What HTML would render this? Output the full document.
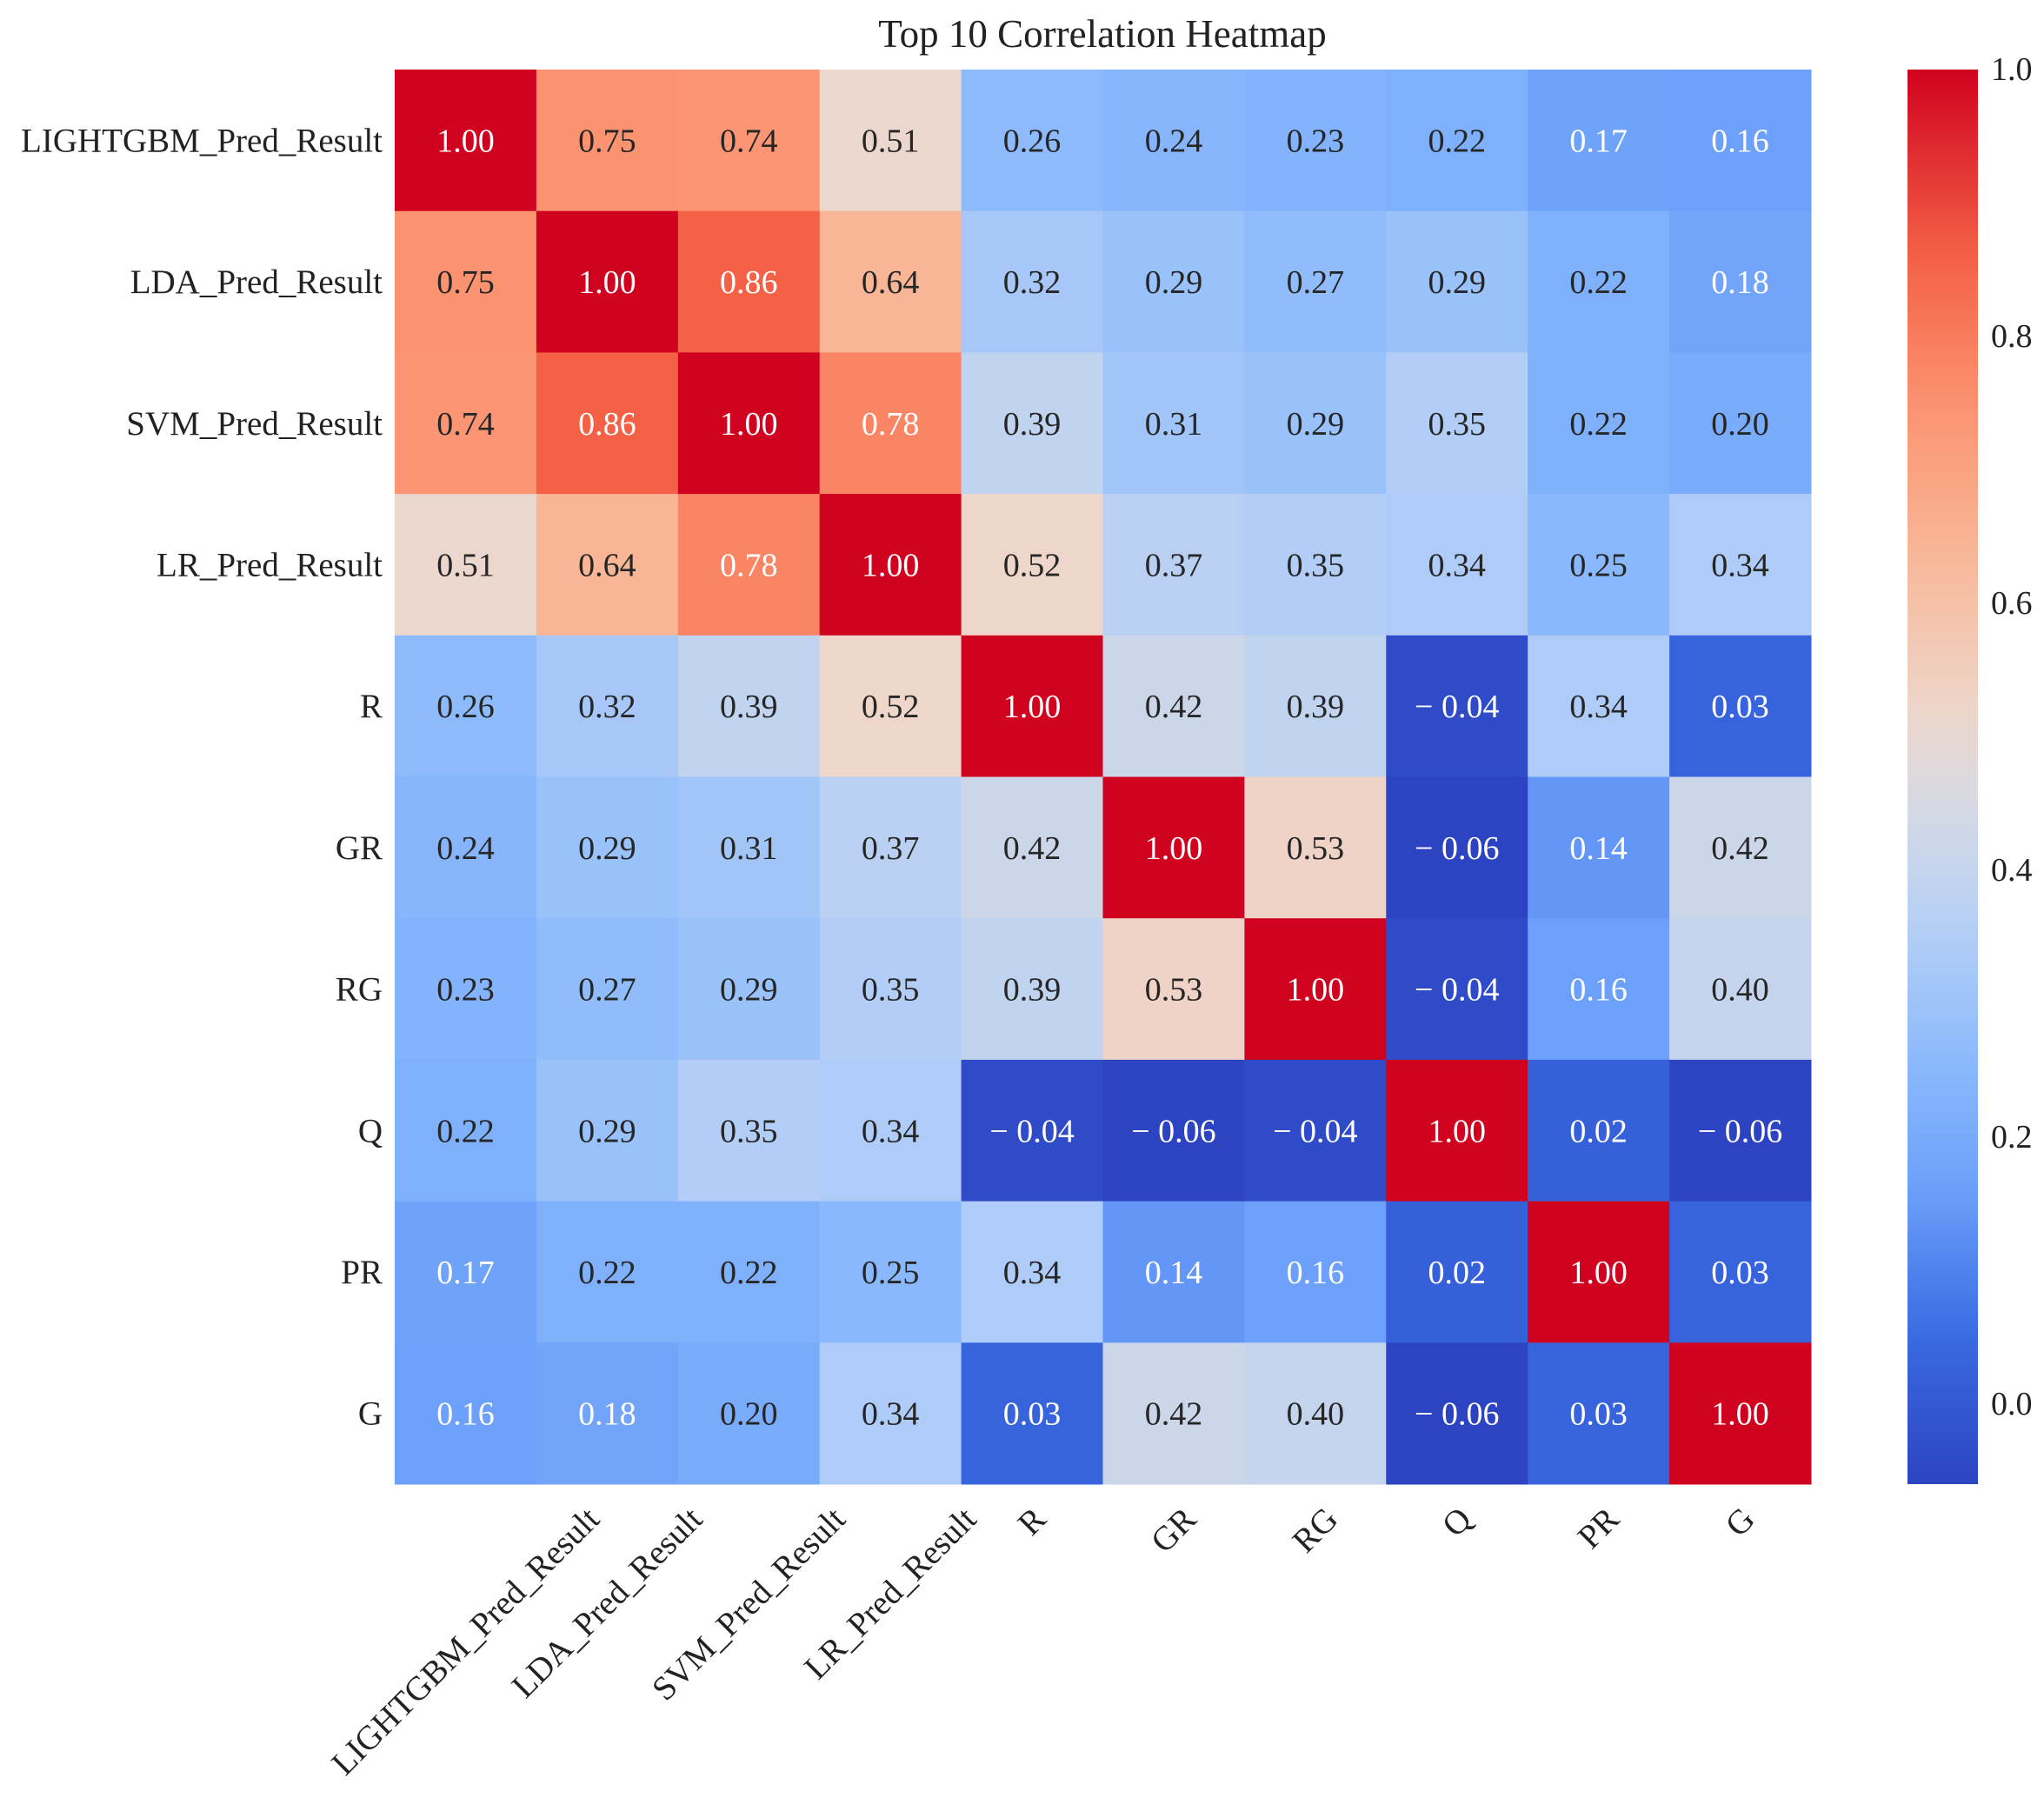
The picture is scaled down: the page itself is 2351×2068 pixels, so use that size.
<!DOCTYPE html>
<html><head><meta charset="utf-8"><style>
html,body{margin:0;padding:0;background:#fff;}
svg{display:block;font-family:"Liberation Serif",serif;}
</style></head><body>
<svg id="chart" width="2351" height="2068" viewBox="0 0 2351 2068" xmlns="http://www.w3.org/2000/svg">
<defs>
<linearGradient id="cbgrad" x1="0" y1="1" x2="0" y2="0"></linearGradient>
</defs>
<text x="1268" y="54" font-size="45" text-anchor="middle" fill="#222">Top 10 Correlation Heatmap</text>
<g id="cells"></g><g id="ylabels"></g><g id="xlabels"></g><g id="cbar"></g>
</svg>
<script>
const labels = ["LIGHTGBM_Pred_Result","LDA_Pred_Result","SVM_Pred_Result","LR_Pred_Result","R","GR","RG","Q","PR","G"];
const row0 = [1.00,0.75,0.74,0.51,0.26,0.24,0.23,0.22,0.17,0.16];
const row1 = [0.75,1.00,0.86,0.64,0.32,0.29,0.27,0.29,0.22,0.18];
const row2 = [0.74,0.86,1.00,0.78,0.39,0.31,0.29,0.35,0.22,0.20];
const row3 = [0.51,0.64,0.78,1.00,0.52,0.37,0.35,0.34,0.25,0.34];
const row4 = [0.26,0.32,0.39,0.52,1.00,0.42,0.39,-0.04,0.34,0.03];
const row5 = [0.24,0.29,0.31,0.37,0.42,1.00,0.53,-0.06,0.14,0.42];
const row6 = [0.23,0.27,0.29,0.35,0.39,0.53,1.00,-0.04,0.16,0.40];
const row7 = [0.22,0.29,0.35,0.34,-0.04,-0.06,-0.04,1.00,0.02,-0.06];
const row8 = [0.17,0.22,0.22,0.25,0.34,0.14,0.16,0.02,1.00,0.03];
const row9 = [0.16,0.18,0.20,0.34,0.03,0.42,0.40,-0.06,0.03,1.00];
const matrix = [row0,row1,row2,row3,row4,row5,row6,row7,row8,row9];
const cbTicks = [0.0,0.2,0.4,0.6,0.8,1.0];
const vmin = -0.06, vmax = 1.0;

const NS="http://www.w3.org/2000/svg";
const X0=454, Y0=80, W=1629, H=1627;
const cw=W/labels.length, ch=H/labels.length;
const stops=[[-0.06,[44,68,193]],[0.05,[58,106,226]],[0.16,[108,160,250]],[0.25,[137,184,252]],[0.35,[178,206,246]],[0.45,[214,218,228]],[0.52,[238,214,202]],[0.64,[248,182,150]],[0.75,[251,146,112]],[0.86,[244,97,70]],[1.0,[208,2,31]]];
function color(v){
  if(v<=stops[0][0])return `rgb(${stops[0][1]})`;
  for(let i=1;i<stops.length;i++){
    if(v<=stops[i][0]){const a=stops[i-1],b=stops[i];const t=(v-a[0])/(b[0]-a[0]);
      return `rgb(${a[1].map((c,k)=>Math.round(c+(b[1][k]-c)*t)).join(',')})`;}
  }
  return `rgb(${stops[stops.length-1][1]})`;
}
function xs(i){return X0+i*cw;}
function ys(i){return Y0+i*ch;}
function cby(v){return Y0+H-(v-vmin)/(vmax-vmin)*H;}
function fmt(v){return v<0?"\u2212 "+Math.abs(v).toFixed(2):v.toFixed(2);}
const gc=document.getElementById('cells');
matrix.forEach((row,r)=>row.forEach((v,c)=>{
  const rect=document.createElementNS(NS,'rect');
  rect.setAttribute('x',xs(c));rect.setAttribute('y',ys(r));
  rect.setAttribute('width',cw+0.5);rect.setAttribute('height',ch+0.5);
  rect.setAttribute('fill',color(v));
  
  
  gc.appendChild(rect);
  const t=document.createElementNS(NS,'text');
  t.setAttribute('x',xs(c)+cw/2);t.setAttribute('y',ys(r)+ch/2+13);
  t.setAttribute('text-anchor','middle');t.setAttribute('font-size','38');
  t.setAttribute('fill',(v>0.76||v<0.19)?'#fff':'#262626');
  t.textContent=fmt(v);
  
  
  gc.appendChild(t);
}));
const gy=document.getElementById('ylabels'), gx=document.getElementById('xlabels');
labels.forEach((l,i)=>{
  const t=document.createElementNS(NS,'text');
  t.setAttribute('x',X0-14);t.setAttribute('y',ys(i)+ch/2+13);
  t.setAttribute('text-anchor','end');t.setAttribute('font-size','39');t.setAttribute('fill','#222');
  t.textContent=l;
  
  
  gy.appendChild(t);
  const u=document.createElementNS(NS,'text');
  u.setAttribute('text-anchor','middle');u.setAttribute('font-size','39');u.setAttribute('fill','#222');
  u.setAttribute('dominant-baseline','central');
  u.textContent=l;
  
  
  gx.appendChild(u);
  const L=u.getComputedTextLength();
  const half=(L*0.7071+39*0.7071)/2;
  const ax=xs(i)+cw/2, ay=Y0+H+20+half;
  u.setAttribute('x',ax);u.setAttribute('y',ay);
  u.setAttribute('transform',`rotate(-45 ${ax} ${ay})`);
});
const grad=document.getElementById('cbgrad');
for(let k=0;k<=40;k++){const v=vmin+(vmax-vmin)*k/40;const s=document.createElementNS(NS,'stop');
  s.setAttribute('offset',(k/40));s.setAttribute('stop-color',color(v));grad.appendChild(s);}
const gb=document.getElementById('cbar');
const cb=document.createElementNS(NS,'rect');
cb.setAttribute('x',2194);cb.setAttribute('y',Y0);cb.setAttribute('width',81);cb.setAttribute('height',H);
cb.setAttribute('fill','url(#cbgrad)');


gb.appendChild(cb);
cbTicks.forEach(v=>{
  const t=document.createElementNS(NS,'text');
  t.setAttribute('x',2290);t.setAttribute('y',cby(v)+12);
  t.setAttribute('font-size','38');t.setAttribute('fill','#222');
  t.textContent=v.toFixed(1);
  
  
  gb.appendChild(t);
});
</script>
</body></html>
